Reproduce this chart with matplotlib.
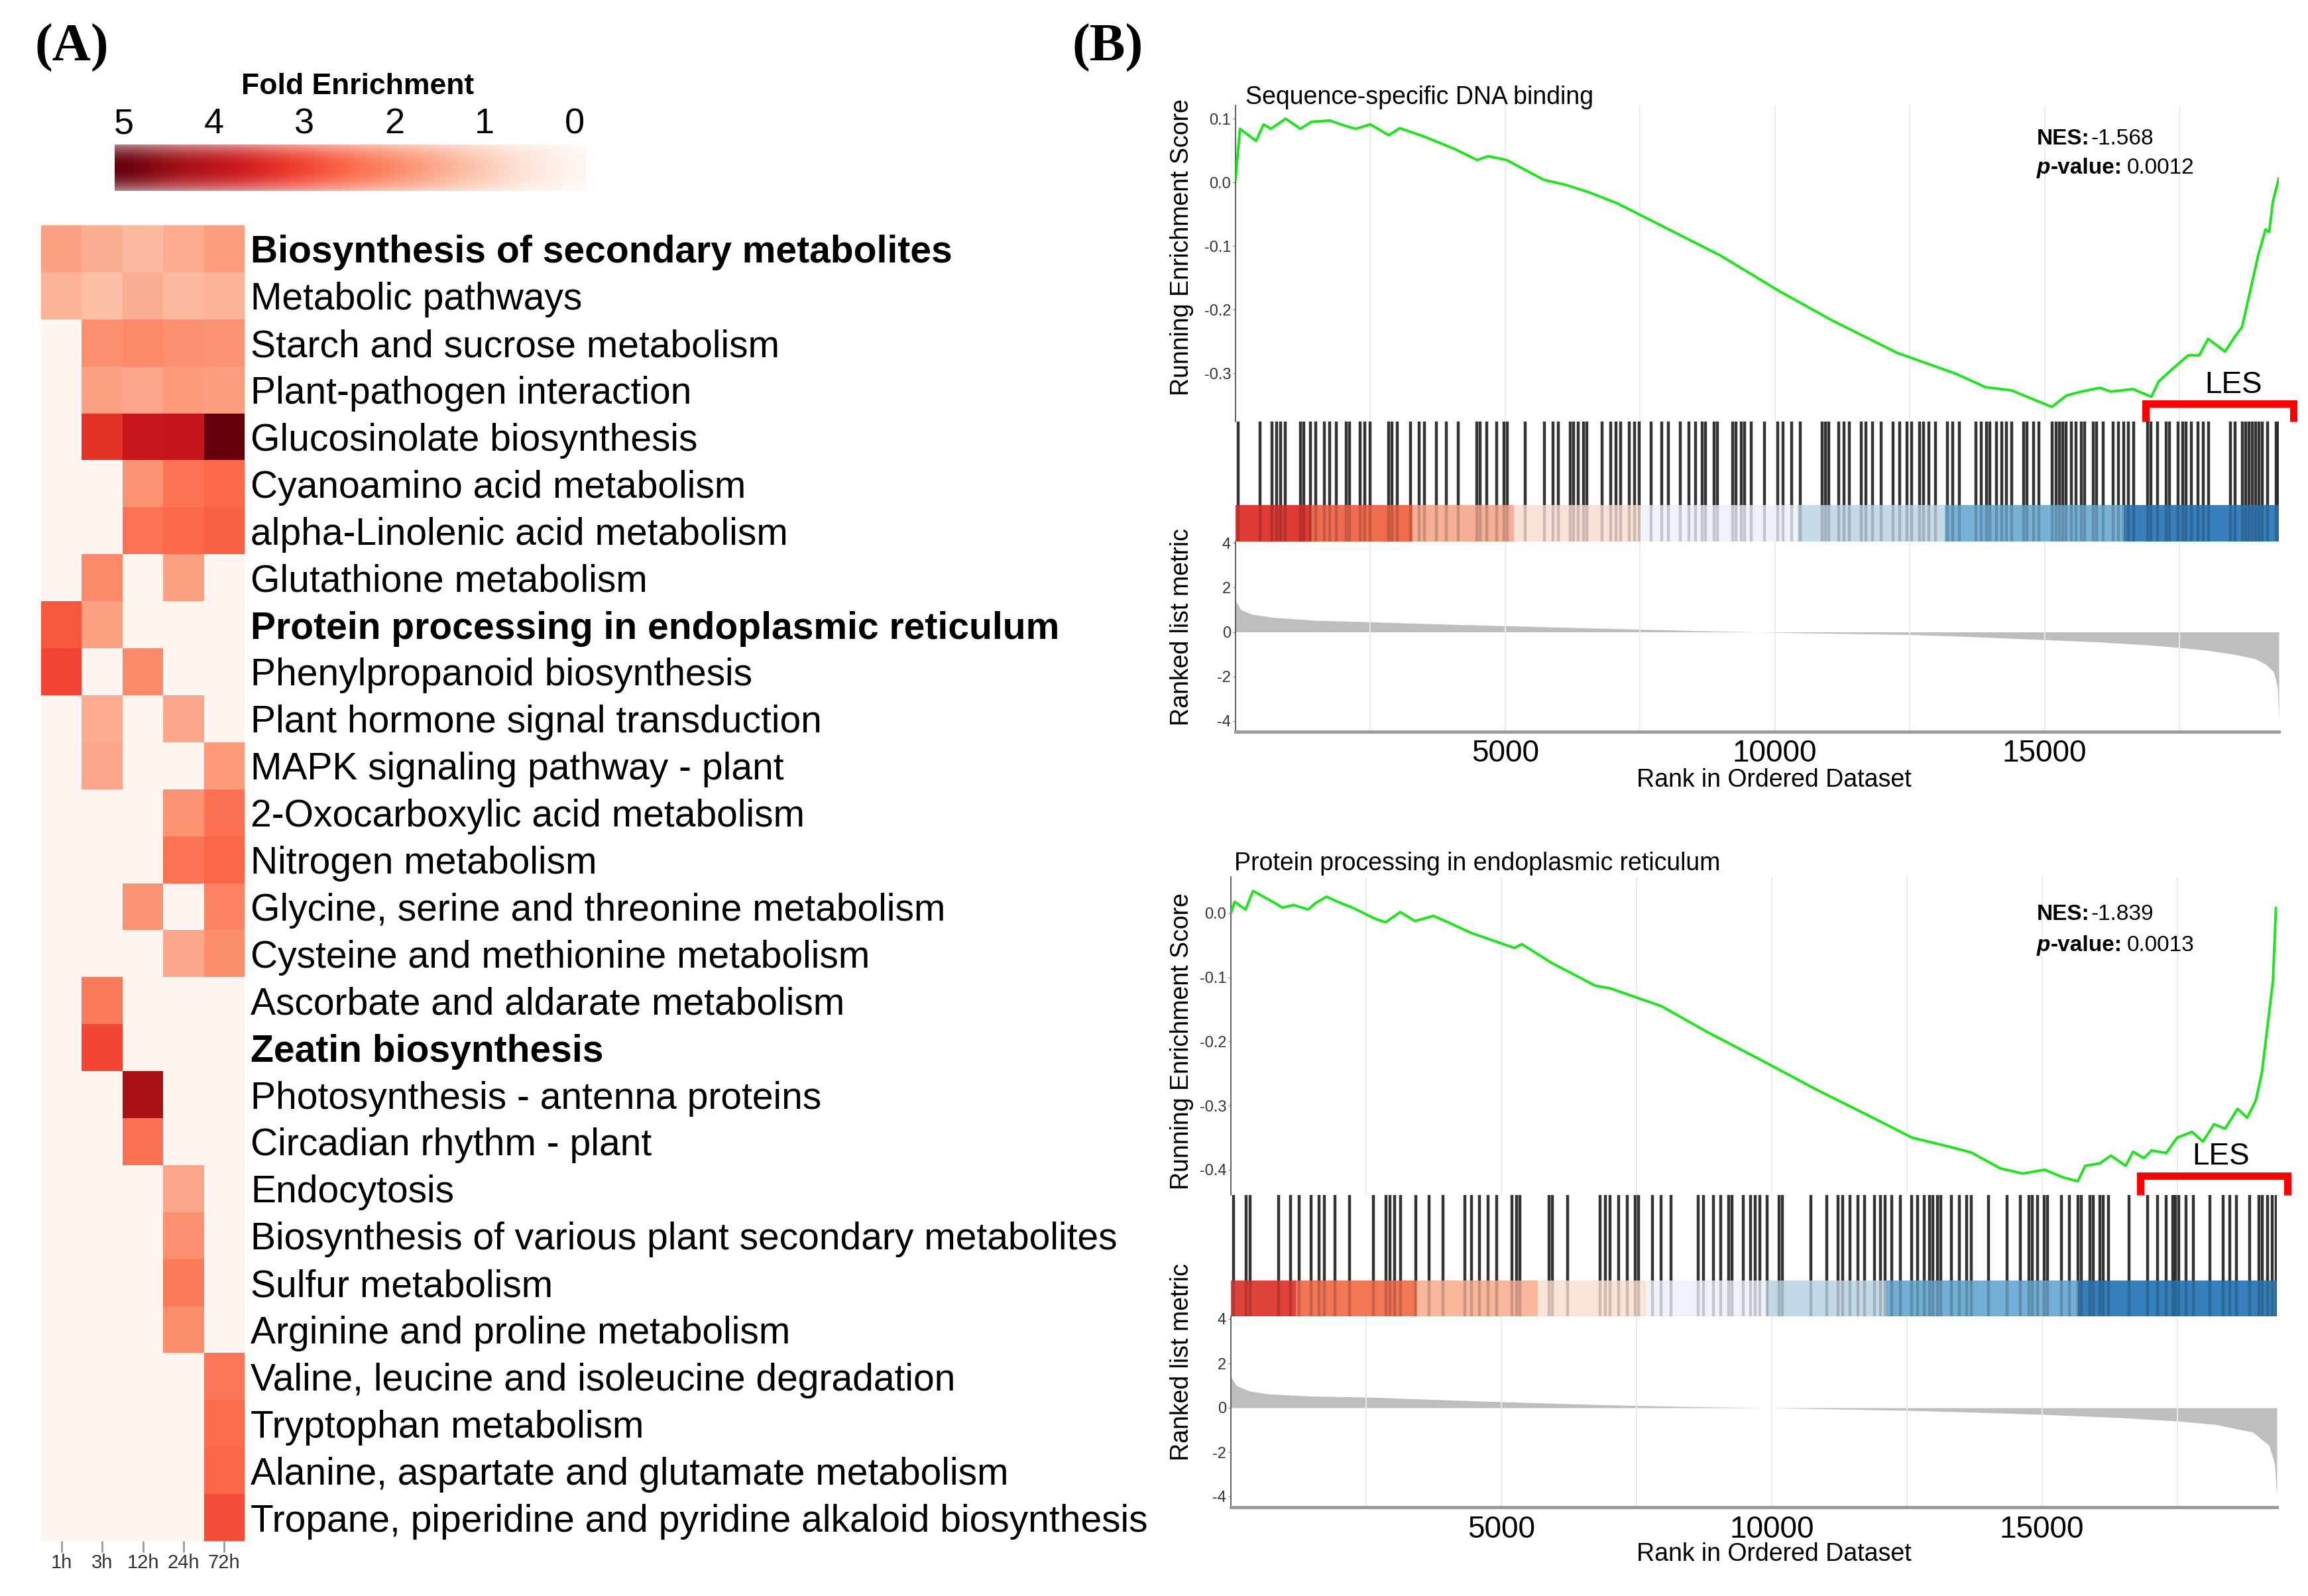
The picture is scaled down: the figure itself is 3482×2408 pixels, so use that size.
import numpy as np
import matplotlib
matplotlib.use("Agg")
import matplotlib.pyplot as plt

plt.rcParams['font.family'] = ['Liberation Sans', 'DejaVu Sans']
plt.rcParams['axes.unicode_minus'] = False

W, H = 3482, 2408

# ---------------- (A) heatmap data ----------------
pathways = [
    "Biosynthesis of secondary metabolites",
    "Metabolic pathways",
    "Starch and sucrose metabolism",
    "Plant-pathogen interaction",
    "Glucosinolate biosynthesis",
    "Cyanoamino acid metabolism",
    "alpha-Linolenic acid metabolism",
    "Glutathione metabolism",
    "Protein processing in endoplasmic reticulum",
    "Phenylpropanoid biosynthesis",
    "Plant hormone signal transduction",
    "MAPK signaling pathway - plant",
    "2-Oxocarboxylic acid metabolism",
    "Nitrogen metabolism",
    "Glycine, serine and threonine metabolism",
    "Cysteine and methionine metabolism",
    "Ascorbate and aldarate metabolism",
    "Zeatin biosynthesis",
    "Photosynthesis - antenna proteins",
    "Circadian rhythm - plant",
    "Endocytosis",
    "Biosynthesis of various plant secondary metabolites",
    "Sulfur metabolism",
    "Arginine and proline metabolism",
    "Valine, leucine and isoleucine degradation",
    "Tryptophan metabolism",
    "Alanine, aspartate and glutamate metabolism",
    "Tropane, piperidine and pyridine alkaloid biosynthesis",
]
bold_rows = ["Biosynthesis of secondary metabolites",
             "Protein processing in endoplasmic reticulum",
             "Zeatin biosynthesis"]
timepoints = ["1h", "3h", "12h", "24h", "72h"]

fe_1h = [1.65, 1.35, 0, 0, 0, 0, 0, 0, 2.75, 3.0, 0, 0, 0, 0,
         0, 0, 0, 0, 0, 0, 0, 0, 0, 0, 0, 0, 0, 0]
fe_3h = [1.45, 1.2, 1.9, 1.65, 3.3, 0, 0, 2.0, 1.65, 0, 1.5, 1.6, 0, 0,
         0, 0, 2.25, 2.95, 0, 0, 0, 0, 0, 0, 0, 0, 0, 0]
fe_12h = [1.25, 1.45, 2.0, 1.6, 3.8, 1.85, 2.35, 0, 0, 2.0, 0, 0, 0, 0,
          1.85, 0, 0, 0, 4.3, 2.4, 0, 0, 0, 0, 0, 0, 0, 0]
fe_24h = [1.5, 1.25, 1.9, 1.75, 3.85, 2.35, 2.5, 1.65, 0, 0, 1.55, 0, 1.85, 2.35,
          0, 1.55, 0, 0, 0, 0, 1.6, 1.9, 2.25, 1.95, 0, 0, 0, 0]
fe_72h = [1.7, 1.35, 1.85, 1.7, 5.0, 2.5, 2.6, 0, 0, 0, 0, 1.75, 2.4, 2.55,
          2.1, 1.95, 0, 0, 0, 0, 0, 0, 0, 0, 2.3, 2.45, 2.55, 2.9]
cbar_ticks = [5, 4, 3, 2, 1, 0]

# ---------------- (B) GSEA data ----------------
n_genes = 19344
rank_labels = {5000: "5000", 10000: "10000", 15000: "15000"}

# Sequence-specific DNA binding
dna_es_rank = [0, 82, 382, 519, 656, 929, 1202, 1407, 1749, 2022, 2227, 2500, 2841,
               3046, 3524, 4071, 4481, 4685, 5027, 5710, 6120, 6530, 7076, 8032, 8988,
               10081, 11037, 12267, 13359, 13906, 14384, 15135, 15409, 15682, 16023,
               16229, 16638, 16980, 17116, 17390, 17663, 17868, 18032, 18346, 18550,
               18660, 18823, 18960, 19097, 19165, 19233, 19343]
dna_es = [0.004, 0.084, 0.065, 0.091, 0.084, 0.100, 0.084, 0.095, 0.097, 0.089, 0.084,
          0.091, 0.074, 0.085, 0.071, 0.052, 0.035, 0.041, 0.035, 0.004, -0.004, -0.015,
          -0.033, -0.074, -0.115, -0.171, -0.216, -0.268, -0.301, -0.322, -0.327, -0.353,
          -0.335, -0.329, -0.323, -0.329, -0.325, -0.337, -0.313, -0.292, -0.272, -0.272,
          -0.246, -0.266, -0.240, -0.228, -0.167, -0.115, -0.074, -0.078, -0.030, 0.006]
dna_hits = [45, 453, 673, 768, 830, 925, 1207, 1270, 1383, 1490, 1647, 1741, 1867, 2055,
            2118, 2307, 2401, 2495, 2841, 2904, 2998, 3249, 3406, 3501, 3720, 3909, 4129,
            4474, 4537, 4663, 4839, 4977, 5040, 5367, 5731, 5888, 5983, 6202, 6265, 6359,
            6454, 6517, 6799, 6956, 7051, 7145, 7302, 7396, 7490, 7710, 7899, 8024, 8244,
            8402, 8527, 8653, 8716, 8873, 8936, 9218, 9281, 9375, 9438, 9564, 9806, 10057,
            10151, 10308, 10465, 10874, 10937, 11000, 11188, 11282, 11376, 11596, 11691,
            11816, 11973, 12193, 12319, 12444, 12539, 12683, 12759, 12853, 12979, 13198,
            13293, 13418, 13733, 13827, 13921, 13984, 14110, 14204, 14298, 14392, 14612,
            14675, 14801, 14895, 15146, 15209, 15272, 15335, 15398, 15492, 15586, 15680,
            15743, 15900, 15963, 16089, 16277, 16371, 16466, 16560, 16654, 16905, 16968,
            17094, 17251, 17314, 17471, 17565, 17628, 17722, 17848, 17942, 18036, 18445,
            18539, 18665, 18727, 18790, 18853, 18916, 18979, 19042, 19136, 19293, 19340]
dna_band_edges = [0, 1407, 3279, 5164, 7514, 10423, 13156, 16475, 19344]
dna_band_colors = ["#DE3B35", "#F06C50", "#F6AF96", "#FBE2D8",
                   "#EEF2FA", "#C5D9E7", "#78B2D7", "#3880BB"]
dna_metric_rank = [0, 100, 300, 700, 1500, 2500, 4000, 5000, 6500, 7500, 8500, 9700,
                   10500, 11500, 12500, 13500, 15000, 16000, 17000, 17500, 18000, 18500,
                   18900, 19100, 19250, 19320, 19344]
dna_metric = [1.4, 1.0, 0.8, 0.65, 0.52, 0.45, 0.34, 0.28, 0.18, 0.12, 0.06, 0.0,
              -0.04, -0.08, -0.12, -0.2, -0.35, -0.45, -0.6, -0.7, -0.82, -1.0,
              -1.2, -1.45, -1.8, -2.5, -4.0]

# Protein processing in endoplasmic reticulum
er_es_rank = [0, 68, 272, 409, 817, 953, 1158, 1430, 1566, 1771, 1975, 2247, 2656, 2860,
              3133, 3405, 3746, 4018, 4427, 4971, 5244, 5380, 5925, 6742, 7014, 7423,
              7968, 8785, 9875, 10828, 11781, 12599, 13280, 13688, 14233, 14642, 15050,
              15391, 15663, 15799, 16071, 16276, 16548, 16684, 16888, 17025, 17297,
              17501, 17774, 17978, 18182, 18387, 18618, 18795, 18959, 19068, 19204,
              19272, 19327]
er_es = [0.0, 0.018, 0.006, 0.035, 0.016, 0.009, 0.013, 0.006, 0.016, 0.026, 0.018,
         0.009, -0.008, -0.014, 0.002, -0.012, -0.004, -0.014, -0.030, -0.046, -0.054,
         -0.048, -0.077, -0.113, -0.117, -0.129, -0.145, -0.184, -0.232, -0.275, -0.315,
         -0.350, -0.364, -0.373, -0.398, -0.406, -0.400, -0.412, -0.418, -0.394, -0.390,
         -0.378, -0.394, -0.372, -0.382, -0.370, -0.374, -0.350, -0.341, -0.356, -0.329,
         -0.336, -0.305, -0.319, -0.291, -0.248, -0.153, -0.105, 0.008]
er_hits = [52, 277, 352, 884, 1102, 1259, 1478, 1634, 1728, 1928, 2197, 2635, 2866, 2948,
           3029, 3135, 3417, 3667, 3917, 4324, 4449, 4593, 4762, 4918, 5199, 5281, 5343,
           5888, 5950, 6232, 6826, 6920, 7014, 7170, 7326, 7483, 7545, 7795, 7952, 8140,
           8640, 8746, 8921, 9059, 9203, 9265, 9472, 9609, 9694, 9788, 9913, 10132, 10194,
           10726, 11026, 11226, 11320, 11445, 11602, 11714, 11902, 12008, 12102, 12227,
           12383, 12590, 12696, 12821, 12915, 12978, 13072, 13134, 13322, 13478, 13603,
           13697, 14010, 14354, 14604, 14760, 14823, 14917, 15042, 15104, 15355, 15511,
           15667, 15730, 15886, 15949, 16074, 16136, 16230, 16606, 16950, 17137, 17294,
           17419, 17469, 17531, 17669, 17794, 18107, 18357, 18469, 18594, 18845, 19014,
           19076, 19170, 19264, 19326]
er_band_edges = [0, 1199, 3433, 5681, 7670, 9905, 12125, 15668, 19344]
er_band_colors = ["#DF423B", "#F37657", "#F8B69C", "#FCE3D8",
                  "#EEF3FB", "#C4D9E7", "#73AED5", "#367FBA"]
er_metric_rank = [0, 100, 340, 700, 1500, 2500, 4000, 5000, 6500, 7500, 8500, 9900,
                  11000, 12500, 14000, 15000, 16500, 17500, 18200, 18900, 19200, 19300,
                  19344]
er_metric = [1.4, 1.0, 0.75, 0.62, 0.52, 0.48, 0.35, 0.27, 0.16, 0.1, 0.05, 0.0,
             -0.05, -0.12, -0.22, -0.3, -0.45, -0.6, -0.75, -1.1, -1.7, -2.5, -4.0]


def px_box(x0, y0, x1, y1):
    return [x0 / W, 1 - y1 / H, (x1 - x0) / W, (y1 - y0) / H]


def fx(x):
    return x / W


def fy(y):
    return 1 - y / H


fig = plt.figure(figsize=(W / 100, H / 100), dpi=100)
fig.patch.set_facecolor("white")

# ---------------- panel A ----------------
ax = fig.add_axes(px_box(62, 340, 369, 2325))
fe = np.column_stack([fe_1h, fe_3h, fe_12h, fe_24h, fe_72h])
ax.pcolormesh(fe, cmap="Reds", vmin=0, vmax=5, edgecolors="none")
ax.set_xlim(0, len(timepoints))
ax.set_ylim(len(pathways), 0)
ax.set_yticks(np.arange(len(pathways)) + 0.5)
ax.set_yticklabels(pathways, fontsize=41)
ax.yaxis.tick_right()
ax.tick_params(axis="y", length=0, pad=6.5)
for lbl in ax.get_yticklabels():
    if lbl.get_text() in bold_rows:
        lbl.set_fontweight("bold")
ax.set_xticks(np.arange(len(timepoints)) + 0.5)
ax.set_xticklabels(timepoints, fontsize=21, color="#333333")
ax.tick_params(axis="x", length=12, width=2, color="#999999", pad=2)
for s in ax.spines.values():
    s.set_visible(False)

# colour key
cax = fig.add_axes(px_box(173, 218, 884, 288))
lo, hi = 5.103, -0.125
grad = np.linspace(lo, hi, 500)
rgba = plt.get_cmap("Reds")(np.clip(grad, 0, 5) / 5)
fade = 1 - 0.5 * np.abs(np.linspace(-1, 1, 60)) ** 2
img = np.repeat(rgba[None, :, :], 60, axis=0)
img[:, :, 3] = fade[:, None]
cax.imshow(img, extent=(lo, hi, 0, 1), aspect="auto", interpolation="bilinear")
cax.set_xlim(lo, hi)
cax.set_ylim(0, 1)
cax.set_xticks(cbar_ticks)
cax.xaxis.tick_top()
cax.tick_params(axis="x", length=0, labelsize=39, pad=4)
cax.set_yticks([])
for s in cax.spines.values():
    s.set_visible(False)
fig.text(fx(540), fy(130), "Fold Enrichment", ha="center", va="center",
         fontsize=32, fontweight="bold")

fig.text(fx(108), fy(72), "(A)", ha="center", va="center", fontsize=58,
         fontweight="bold", family="Liberation Serif")
fig.text(fx(1671), fy(72), "(B)", ha="center", va="center", fontsize=58,
         fontweight="bold", family="Liberation Serif")

# ---------------- panel B ----------------
grid_ticks = list(range(2500, n_genes, 2500))


def draw_gsea(lay, title, es_rank, es_val, hits, band_edges, band_colors,
              metric_rank, metric_val, nes, pval, es_ticks, les):
    x0, x1 = lay["x0"], lay["x1"]

    # running enrichment score
    es_ax = fig.add_axes(px_box(x0, lay["es_y0"], x1, lay["es_y1"]))
    es_lo = (lay["es_zero"] - lay["es_y1"]) / lay["es_px"]
    es_hi = (lay["es_zero"] - lay["es_y0"]) / lay["es_px"]
    es_ax.plot(es_rank, es_val, color="#1AE61A", lw=2.8, zorder=3)
    es_ax.set_xlim(0, n_genes)
    es_ax.set_ylim(es_lo, es_hi)
    es_ax.set_xticks(grid_ticks)
    es_ax.tick_params(axis="x", length=0, labelbottom=False)
    es_ax.grid(axis="x", color="#EBEBEB", lw=1.4)
    es_ax.set_yticks(es_ticks)
    es_ax.set_yticklabels([f"{t:.1f}" for t in es_ticks])
    es_ax.tick_params(axis="y", labelsize=17, length=3, color="#888888", pad=2,
                      labelcolor="#333333")
    for side in ("top", "right", "bottom"):
        es_ax.spines[side].set_visible(False)
    es_ax.spines["left"].set_color("#444444")
    es_ax.spines["left"].set_linewidth(1.2)

    # leading-edge bracket
    bracket_y = (lay["es_zero"] - lay["les_y"]) / lay["es_px"]
    es_ax.plot([les[0], les[0], les[1], les[1]], [es_lo, bracket_y, bracket_y, es_lo],
               color="#FF0000", lw=8, clip_on=False, solid_joinstyle="miter",
               solid_capstyle="butt", zorder=4)
    fig.text(fx(lay["les_x"]), fy(lay["les_ty"]), "LES", ha="center", va="center",
             fontsize=33)

    # NES / p-value
    t1 = es_ax.text(fx(lay["nes_x"]), fy(lay["nes_base"]), "NES:", fontsize=24,
                    fontweight="bold", va="baseline", transform=fig.transFigure)
    es_ax.annotate(nes, xy=(1, 0), xycoords=t1, xytext=(1, 0),
                   textcoords="offset points", va="bottom", fontsize=24,
                   annotation_clip=False)
    t3 = es_ax.text(fx(lay["nes_x"]), fy(lay["p_base"]), "p", fontsize=24,
                    fontweight="bold", fontstyle="italic", va="baseline",
                    transform=fig.transFigure)
    t4 = es_ax.annotate("-value:", xy=(1, 0), xycoords=t3, va="bottom", fontsize=24,
                        fontweight="bold", annotation_clip=False)
    es_ax.annotate(pval, xy=(1, 0), xycoords=t4, xytext=(5, 0),
                   textcoords="offset points", va="bottom", fontsize=24,
                   annotation_clip=False)

    fig.text(fx(lay["title_x"]), fy(lay["title_y"]), title, ha="left", va="center",
             fontsize=27)

    # hit barcode + colour band
    bc = fig.add_axes(px_box(x0, lay["es_y1"], x1, lay["rk_y0"]))
    bf = lay["band_frac"]
    bc.bar(band_edges[:-1], bf, width=np.diff(band_edges), align="edge",
           color=band_colors, linewidth=0)
    bc.vlines(hits, bf, 1, color="black", alpha=0.8, lw=3.2)
    bc.vlines(hits, 0, bf, color="black", alpha=0.18, lw=3.2)
    bc.set_xlim(0, n_genes)
    bc.set_ylim(0, 1)
    bc.axis("off")

    # ranked list metric
    rk = fig.add_axes(px_box(x0, lay["rk_y0"], x1, lay["rk_y1"]))
    rk_hi = (lay["rk_zero"] - lay["rk_y0"]) / lay["rk_px"]
    rk_lo = (lay["rk_zero"] - lay["rk_y1"]) / lay["rk_px"]
    rk.fill_between(metric_rank, metric_val, 0, color="#BEBEBE", lw=0)
    rk.set_xlim(0, n_genes)
    rk.set_ylim(rk_lo, rk_hi)
    rk.set_xticks(grid_ticks)
    rk.set_xticklabels([rank_labels.get(t, "") for t in grid_ticks])
    rk.tick_params(axis="x", length=0, labelsize=33, pad=lay["xpad"])
    rk.grid(axis="x", color="#EBEBEB", lw=1.4)
    rk.set_yticks([4, 2, 0, -2, -4])
    rk.tick_params(axis="y", labelsize=17, length=3, color="#888888", pad=2,
                   labelcolor="#333333")
    for side in ("top", "right"):
        rk.spines[side].set_visible(False)
    rk.spines["left"].set_color("#444444")
    rk.spines["left"].set_linewidth(1.2)
    rk.spines["bottom"].set_color("#9A9A9A")
    rk.spines["bottom"].set_linewidth(3.5)

    fig.text(fx(2676), fy(lay["xlab_y"]), "Rank in Ordered Dataset", ha="center",
             va="center", fontsize=27)
    fig.text(fx(1783), fy(lay["es_lab_y"]), "Running Enrichment Score", rotation=90,
             ha="center", va="center", fontsize=27)
    fig.text(fx(1783), fy(lay["rk_lab_y"]), "Ranked list metric", rotation=90,
             ha="center", va="center", fontsize=27)


top_layout = dict(x0=1864, x1=3438, es_y0=159, es_y1=636, es_zero=275, es_px=960,
                  rk_y0=817, rk_y1=1104, rk_zero=953.5, rk_px=33.6, band_frac=55 / 181,
                  les_y=609, les_x=3370, les_ty=581, nes_x=3073, nes_base=218,
                  p_base=262, title_x=1879, title_y=147, xlab_y=1177, xpad=8,
                  es_lab_y=373, rk_lab_y=946)
bottom_layout = dict(x0=1857, x1=3435, es_y0=1323, es_y1=1803, es_zero=1378, es_px=967,
                     rk_y0=1986, rk_y1=2274, rk_zero=2124, rk_px=33.5, band_frac=54 / 183,
                     les_y=1774, les_x=3351, les_ty=1745, nes_x=3073, nes_base=1388,
                     p_base=1435, title_x=1862, title_y=1303, xlab_y=2345, xpad=9,
                     es_lab_y=1571, rk_lab_y=2055)

draw_gsea(top_layout, "Sequence-specific DNA binding", dna_es_rank, dna_es, dna_hits,
          dna_band_edges, dna_band_colors, dna_metric_rank, dna_metric,
          "-1.568", "0.0012", [0.1, 0.0, -0.1, -0.2, -0.3], (16871, 19620))
draw_gsea(bottom_layout, "Protein processing in endoplasmic reticulum", er_es_rank,
          er_es, er_hits, er_band_edges, er_band_colors, er_metric_rank, er_metric,
          "-1.839", "0.0013", [0.0, -0.1, -0.2, -0.3, -0.4], (16821, 19540))

fig.savefig("out.png", dpi=100, facecolor="white")
